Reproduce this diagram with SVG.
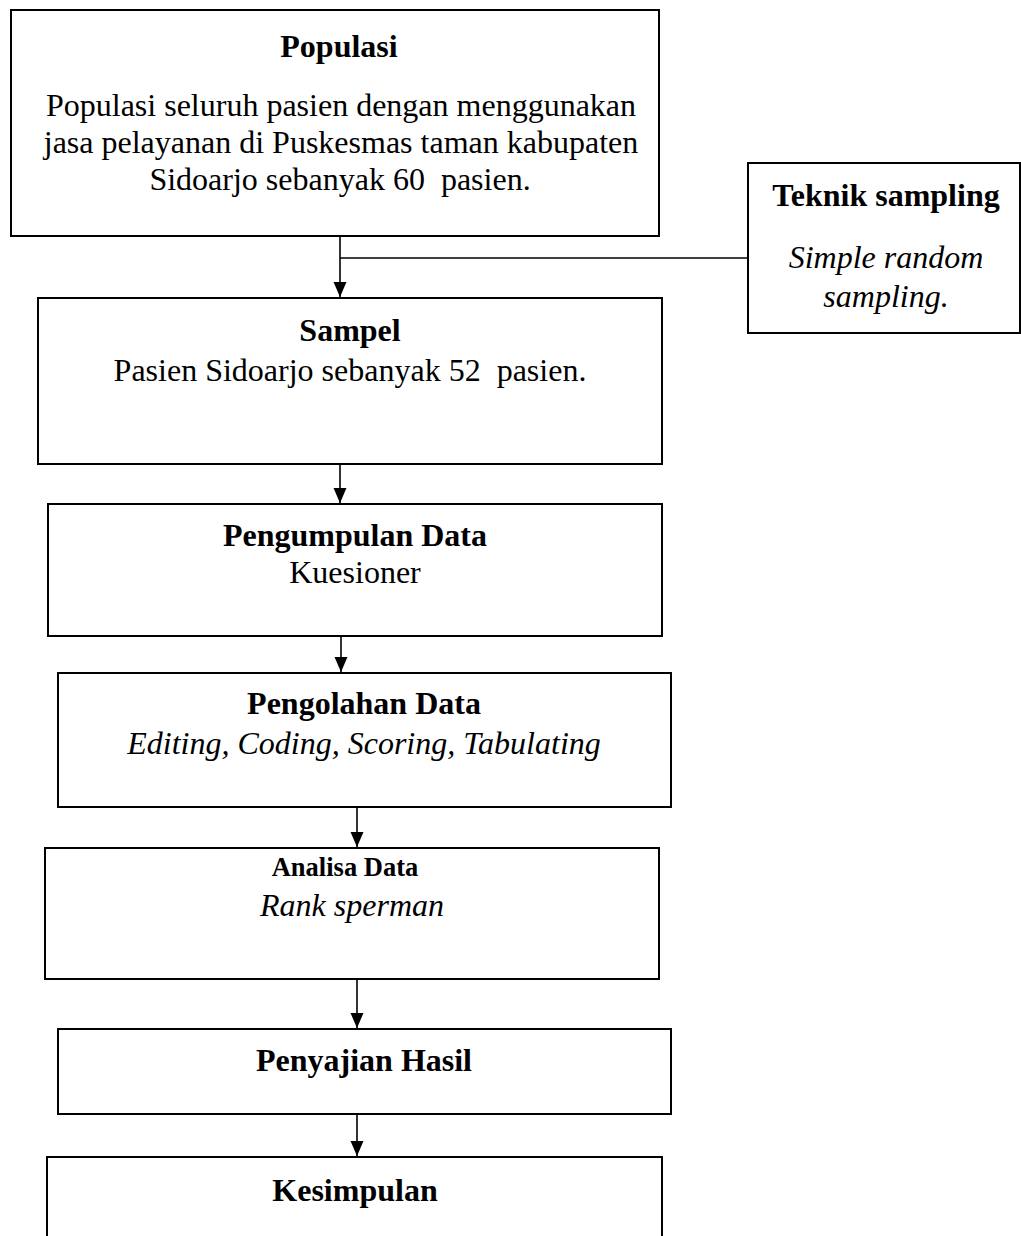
<svg xmlns="http://www.w3.org/2000/svg" width="1021" height="1236" viewBox="0 0 1021 1236">
<style>
  .box { fill: #ffffff; stroke: #000000; stroke-width: 2; }
  .t { font-family: "Liberation Serif", "Times New Roman", serif; font-size: 32px; fill: #000000; text-anchor: middle; white-space: pre; }
  .b { font-weight: bold; }
  .i { font-style: italic; }
  .conn { fill: none; stroke: #000000; stroke-width: 1.6; }
</style>
<defs>
  <marker id="arrow" markerUnits="userSpaceOnUse" markerWidth="16" markerHeight="14" refX="15" refY="6.5" orient="auto">
    <polygon points="0,0 15,6.5 0,13" fill="#000000"/>
  </marker>
</defs>
<rect width="1021" height="1236" fill="#ffffff"/>

<g id="connectors">
  <line class="conn" x1="340" y1="236" x2="340" y2="297" marker-end="url(#arrow)"/>
  <line class="conn" x1="340" y1="258" x2="748" y2="258"/>
  <line class="conn" x1="340" y1="464" x2="340" y2="503" marker-end="url(#arrow)"/>
  <line class="conn" x1="341" y1="636" x2="341" y2="672" marker-end="url(#arrow)"/>
  <line class="conn" x1="357" y1="807" x2="357" y2="847" marker-end="url(#arrow)"/>
  <line class="conn" x1="357" y1="979" x2="357" y2="1028" marker-end="url(#arrow)"/>
  <line class="conn" x1="357" y1="1114" x2="357" y2="1156" marker-end="url(#arrow)"/>
</g>

<g id="populasi">
  <rect class="box" x="11" y="10" width="648" height="226"/>
  <text class="t b" x="339" y="57">Populasi</text>
  <text class="t" x="341" y="116">Populasi seluruh pasien dengan menggunakan</text>
  <text class="t" x="341" y="153">jasa pelayanan di Puskesmas taman kabupaten</text>
  <text class="t" x="340" y="190">Sidoarjo sebanyak 60  pasien.</text>
</g>

<g id="teknik-sampling">
  <rect class="box" x="748" y="163" width="272" height="170"/>
  <text class="t b" x="886" y="206">Teknik sampling</text>
  <text class="t i" x="886" y="268">Simple random</text>
  <text class="t i" x="886" y="307">sampling.</text>
</g>

<g id="sampel">
  <rect class="box" x="38" y="298" width="624" height="166"/>
  <text class="t b" x="350" y="341">Sampel</text>
  <text class="t" x="350" y="381">Pasien Sidoarjo sebanyak 52  pasien.</text>
</g>

<g id="pengumpulan-data">
  <rect class="box" x="48" y="504" width="614" height="132"/>
  <text class="t b" x="355" y="546">Pengumpulan Data</text>
  <text class="t" x="355" y="583">Kuesioner</text>
</g>

<g id="pengolahan-data">
  <rect class="box" x="58" y="673" width="613" height="134"/>
  <text class="t b" x="364" y="714">Pengolahan Data</text>
  <text class="t i" x="364" y="754">Editing, Coding, Scoring, Tabulating</text>
</g>

<g id="analisa-data">
  <rect class="box" x="45" y="848" width="614" height="131"/>
  <text class="t b" x="345" y="876" style="font-size:26.5px">Analisa Data</text>
  <text class="t i" x="352" y="916">Rank sperman</text>
</g>

<g id="penyajian-hasil">
  <rect class="box" x="58" y="1029" width="613" height="85"/>
  <text class="t b" x="364" y="1071">Penyajian Hasil</text>
</g>

<g id="kesimpulan">
  <rect class="box" x="47" y="1157" width="615" height="100"/>
  <text class="t b" x="355" y="1201">Kesimpulan</text>
</g>
</svg>
